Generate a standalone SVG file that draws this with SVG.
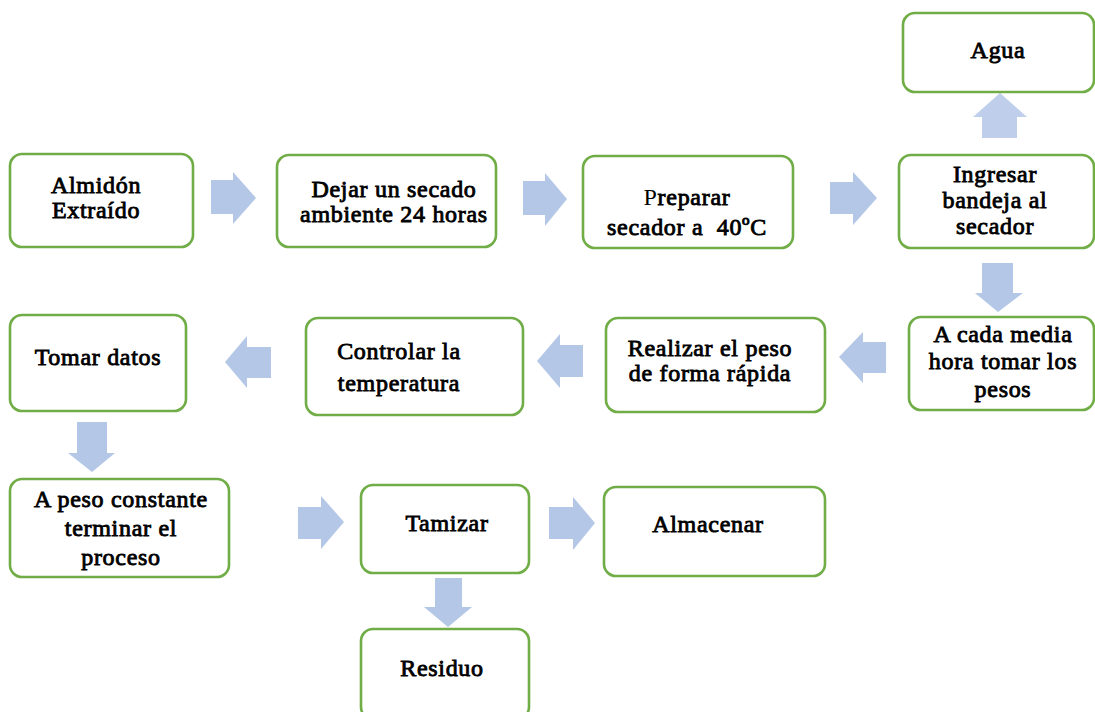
<svg xmlns="http://www.w3.org/2000/svg" width="1095" height="712" viewBox="0 0 1095 712">
<style>
.box{fill:#fff;stroke:#70AD47;stroke-width:2.6}
text{font-family:'Liberation Serif','Times New Roman',serif;font-weight:normal;font-size:24px;fill:#000;stroke:#000;stroke-width:0.85;letter-spacing:0.7px;text-anchor:middle}
.arr{fill:#B4C7E7}
</style>
<rect width="1095" height="712" fill="#fff"/>
<g id="connectors">
<polygon class="arr" points="211,180 233,180 233,172 256,198 233,224 233,214 211,214"/>
<polygon class="arr" points="523,181 545,181 545,173 567,199 545,226 545,215 523,215"/>
<polygon class="arr" points="830,182 853,182 853,172 877,198 853,225 853,214 830,214"/>
<polygon class="arr" points="982,138 982,117 973,117 1000,93 1027,117 1017,117 1017,138" opacity="0.85"/>
<polygon class="arr" points="982,263 1013,263 1013,293 1023,293 998,312 975,293 982,293"/>
<polygon class="arr" points="886,342 863,342 863,332 839,357 863,383 863,373 886,373"/>
<polygon class="arr" points="583,345 560,345 560,334 537,361 560,388 560,377 583,377"/>
<polygon class="arr" points="271,347 247,347 247,336 225,362 247,388 247,378 271,378"/>
<polygon class="arr" points="77,422 107,422 107,453 115,453 92,472 68,453 77,453"/>
<polygon class="arr" points="298,507 321,507 321,496 344,522 321,549 321,539 298,539"/>
<polygon class="arr" points="435,578 462,578 462,607 472,607 448,627 424,607 435,607"/>
<polygon class="arr" points="549,507 573,507 573,497 595,523 573,550 573,539 549,539"/>
</g>
<g id="n-almidon"><rect class="box" x="10" y="154" width="183" height="93" rx="12"/><text x="96" y="193">Almidón</text><text x="96" y="218">Extraído</text></g>
<g id="n-dejar"><rect class="box" x="277" y="155" width="219" height="92" rx="12"/><text x="394" y="197">Dejar un secado</text><text x="394" y="222">ambiente 24 horas</text></g>
<g id="n-preparar"><rect class="box" x="583" y="156" width="210" height="92" rx="12"/><text x="687" y="205"><tspan stroke-width="0">P</tspan>reparar</text><text x="687" y="235" xml:space="preserve">secador a  40ºC</text></g>
<g id="n-ingresar"><rect class="box" x="899" y="155" width="195" height="93" rx="12"/><text x="995" y="182">Ingresar</text><text x="995" y="208">bandeja al</text><text x="995" y="234">secador</text></g>
<g id="n-agua"><rect class="box" x="903" y="13" width="191" height="79" rx="12"/><text x="998" y="58">Agua</text></g>
<g id="n-cada"><rect class="box" x="909" y="317" width="185" height="93" rx="12"/><text x="1003" y="342">A cada media</text><text x="1003" y="369">hora tomar los</text><text x="1003" y="397">pesos</text></g>
<g id="n-realizar"><rect class="box" x="606" y="318" width="219" height="94" rx="12"/><text x="710" y="356">Realizar el peso</text><text x="710" y="381">de forma rápida</text></g>
<g id="n-controlar"><rect class="box" x="306" y="318" width="217" height="97" rx="12"/><text x="399" y="359">Controlar la</text><text x="399" y="391">temperatura</text></g>
<g id="n-tomar"><rect class="box" x="10" y="315" width="176" height="96" rx="12"/><text x="98" y="365">Tomar datos</text></g>
<g id="n-peso"><rect class="box" x="10" y="479" width="219" height="98" rx="12"/><text x="121" y="507">A peso constante</text><text x="121" y="536">terminar el</text><text x="121" y="565">proceso</text></g>
<g id="n-tamizar"><rect class="box" x="361" y="485" width="168" height="88" rx="12"/><text x="447" y="531">Tamizar</text></g>
<g id="n-almacenar"><rect class="box" x="604" y="487" width="221" height="89" rx="12"/><text x="708" y="532">Almacenar</text></g>
<g id="n-residuo"><rect class="box" x="361" y="629" width="168" height="90" rx="12"/><text x="442" y="676">Residuo</text></g>
</svg>
